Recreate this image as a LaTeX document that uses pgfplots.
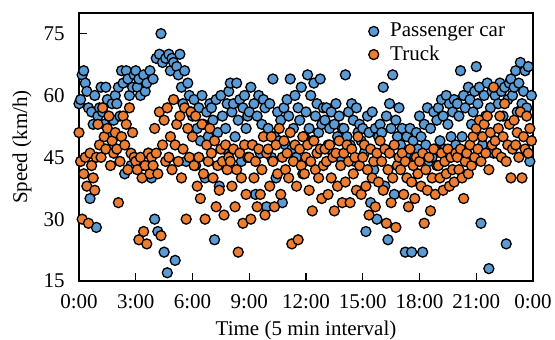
\documentclass[border=0pt]{standalone}
\usepackage{fontspec}
\setmainfont{Liberation Serif}
\usepackage{pgfplots}
\pgfplotsset{compat=1.18}
\definecolor{carblue}{HTML}{5B9BD5}
\definecolor{truckorange}{HTML}{ED7D31}
\pgfplotsset{mylegend/.style={legend image code/.code={\path (0pt,0pt) (10pt,0pt);\draw[mark repeat=2,mark phase=2,##1] plot coordinates {(0pt,0pt)(4pt,0pt)(8pt,0pt)};}}}
\begin{document}
\begin{tikzpicture}
\begin{axis}[
 scale only axis, width=227pt, height=134pt,
 xmin=0, xmax=24, ymin=15, ymax=80,
 xtick={0,3,...,24}, xticklabels={\textrm{0:00},\textrm{3:00},\textrm{6:00},\textrm{9:00},\textrm{12:00},\textrm{15:00},\textrm{18:00},\textrm{21:00},\textrm{0:00}},
 ytick={15,30,45,60,75}, yticklabels={\textrm{15},\textrm{30},\textrm{45},\textrm{60},\textrm{75}},
 tick align=inside, xtick pos=bottom, ytick pos=left,
 major tick length=4pt,
 axis line style={line width=0.7pt},
 every tick/.style={line width=0.7pt, black},
 font=\fontsize{10.5}{12.5}\selectfont,
 /pgf/number format/assume math mode=true,
 xticklabel style={anchor=base, inner sep=0pt, yshift=-13.5pt, font=\fontsize{10.5}{12.5}\rmfamily},
 yticklabel style={anchor=east, inner sep=0pt, xshift=-7pt, font=\fontsize{10.5}{12.5}\rmfamily},
 xlabel={Time (5 min interval)}, ylabel={Speed (km/h)},
 xlabel style={at={(axis description cs:0.5,-0.2015)}, anchor=base, inner sep=0pt},
 ylabel style={at={(axis description cs:-0.1256,0.5)}, anchor=center, inner sep=0pt},
 clip=false,
 legend style={draw=none, fill=none, at={(axis cs:14.8,79.6)}, anchor=north west, row sep=-1pt},
 legend cell align=left,
]
\addplot[only marks, mark=*, mark size=2.5pt, mark options={draw=black, fill=carblue, line width=0.65pt}, mylegend]
 table[row sep=\\, x expr=\coordindex/12, y index=0] {v\\
58\\59\\65\\66\\63\\61\\57\\35\\56\\53\\60\\28\\
55\\57\\62\\56\\53\\62\\59\\50\\47\\58\\54\\60\\
58\\62\\55\\66\\63\\41\\66\\64\\60\\43\\62\\65\\
66\\62\\64\\60\\43\\65\\61\\63\\46\\66\\40\\64\\
30\\69\\27\\70\\75\\68\\22\\69\\17\\70\\66\\69\\
68\\20\\67\\65\\70\\62\\58\\66\\44\\63\\60\\56\\
55\\59\\43\\52\\57\\49\\60\\53\\40\\56\\50\\58\\
57\\54\\25\\59\\51\\38\\60\\55\\47\\52\\58\\61\\
63\\56\\58\\50\\63\\54\\59\\44\\57\\60\\52\\55\\
56\\62\\48\\58\\36\\55\\60\\46\\53\\59\\57\\33\\
52\\58\\45\\64\\50\\40\\56\\49\\54\\34\\57\\48\\
59\\55\\64\\47\\52\\60\\45\\57\\54\\62\\41\\50\\
56\\65\\52\\60\\49\\63\\55\\58\\51\\64\\53\\57\\
54\\57\\48\\52\\56\\46\\53\\58\\50\\55\\45\\52\\
52\\65\\50\\56\\48\\58\\54\\44\\57\\51\\53\\49\\
52\\46\\27\\55\\51\\34\\56\\42\\52\\30\\50\\53\\
51\\62\\38\\55\\25\\58\\52\\65\\36\\54\\50\\57\\
48\\52\\44\\22\\50\\46\\52\\22\\49\\45\\51\\47\\
55\\50\\22\\53\\48\\57\\44\\52\\45\\56\\47\\54\\
57\\49\\59\\55\\47\\60\\53\\58\\50\\56\\59\\48\\
58\\55\\66\\50\\60\\57\\46\\62\\59\\53\\56\\61\\
67\\58\\62\\29\\48\\60\\55\\63\\18\\57\\61\\46\\
60\\62\\58\\63\\61\\55\\62\\24\\59\\63\\64\\60\\
62\\66\\56\\63\\68\\58\\61\\66\\57\\67\\44\\60\\
};
\addlegendentry{Passenger car}
\addplot[only marks, mark=*, mark size=2.5pt, mark options={draw=black, fill=truckorange, line width=0.65pt}, mylegend]
 table[row sep=\\, x expr=\coordindex/12, y index=0] {v\\
51\\44\\30\\41\\45\\38\\29\\46\\43\\40\\37\\45\\
53\\48\\45\\57\\50\\47\\52\\55\\43\\49\\46\\51\\
47\\34\\44\\50\\55\\48\\53\\42\\57\\46\\51\\45\\
44\\42\\25\\45\\40\\27\\43\\24\\46\\41\\45\\43\\
52\\46\\41\\56\\26\\48\\54\\44\\57\\45\\50\\42\\
59\\48\\53\\44\\55\\40\\47\\57\\30\\52\\45\\56\\
50\\43\\55\\38\\45\\35\\53\\41\\30\\48\\44\\52\\
46\\40\\49\\33\\43\\37\\47\\44\\31\\48\\42\\45\\
44\\38\\47\\33\\42\\22\\46\\40\\29\\48\\36\\45\\
45\\30\\48\\40\\44\\33\\47\\36\\42\\50\\31\\46\\
47\\38\\50\\44\\33\\48\\41\\52\\36\\45\\49\\42\\
46\\40\\51\\24\\44\\48\\38\\25\\47\\43\\50\\41\\
45\\48\\37\\44\\32\\49\\42\\46\\40\\47\\35\\43\\
47\\44\\36\\48\\40\\45\\32\\46\\38\\49\\43\\34\\
46\\39\\48\\44\\34\\47\\41\\45\\37\\50\\43\\36\\
45\\48\\38\\42\\31\\47\\40\\44\\33\\46\\39\\49\\
44\\37\\47\\29\\42\\46\\34\\40\\48\\28\\43\\45\\
42\\46\\36\\44\\40\\33\\47\\39\\43\\35\\45\\41\\
44\\38\\46\\29\\42\\37\\45\\32\\40\\47\\36\\43\\
43\\40\\46\\37\\44\\41\\47\\38\\45\\42\\39\\46\\
45\\42\\47\\40\\35\\44\\46\\41\\48\\43\\50\\45\\
52\\47\\54\\44\\50\\53\\46\\55\\42\\51\\48\\62\\
49\\46\\52\\55\\45\\50\\58\\44\\48\\53\\40\\47\\
54\\48\\51\\45\\56\\40\\50\\47\\55\\46\\52\\49\\
};
\addlegendentry{Truck}
\end{axis}
\path ([shift={(-39.5pt,-28.5pt)}]current axis.south west) rectangle ([shift={(11pt,6.5pt)}]current axis.north east);
\end{tikzpicture}
\end{document}
